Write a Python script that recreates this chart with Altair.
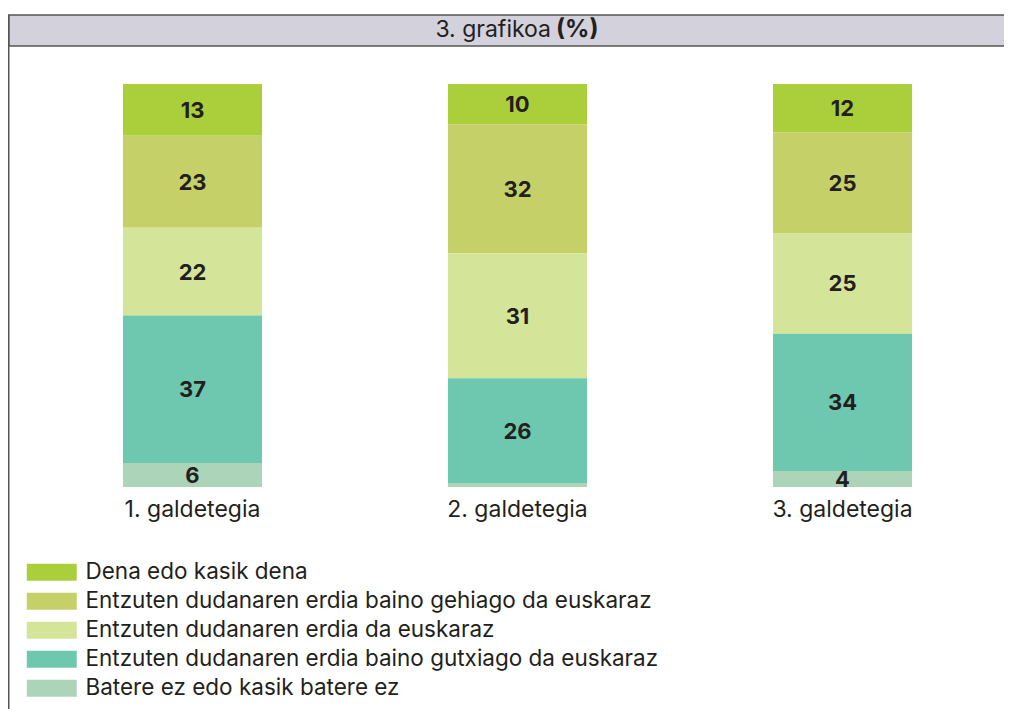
import altair as alt
import pandas as pd

surveys = ["1. galdetegia", "2. galdetegia", "3. galdetegia"]
categories = [
    "Dena edo kasik dena",
    "Entzuten dudanaren erdia baino gehiago da euskaraz",
    "Entzuten dudanaren erdia da euskaraz",
    "Entzuten dudanaren erdia baino gutxiago da euskaraz",
    "Batere ez edo kasik batere ez",
]
colors = ["#abcf3b", "#c5d069", "#d4e499", "#6ec8af", "#acd4b8"]
values_1 = [13, 23, 22, 37, 6]
values_2 = [10, 32, 31, 26, 1]
values_3 = [12, 25, 25, 34, 4]
title_regular = "3. grafikoa"
title_bold = "(%)"

FONT = "Inter"
TXT = "#231f20"

rows = []
for s, vals in zip(surveys, [values_1, values_2, values_3]):
    for i, (c, v) in enumerate(zip(categories, vals)):
        rows.append({"survey": s, "category": c, "value": v, "order": i})
df = pd.DataFrame(rows)

base = alt.Chart(df).transform_stack(
    stack="value",
    groupby=["survey"],
    as_=["v0", "v1"],
    offset="normalize",
    sort=[alt.SortField("order", order="descending")],
).transform_calculate(mid="(datum.v0 + datum.v1) / 2")

xenc = alt.X(
    "survey:N",
    sort=surveys,
    scale=alt.Scale(range=[22, 997], paddingInner=0.572, paddingOuter=0.286),
    axis=alt.Axis(
        title=None, labelAngle=0, domain=False, ticks=False, offset=-222,
        labelFontSize=23, labelColor=TXT, labelFont=FONT, labelPadding=11,
    ),
)
yscale = alt.Scale(domain=[0, 1], range=[472, 69])

bars = base.mark_bar(strokeWidth=0).encode(
    x=xenc,
    y=alt.Y("v0:Q", scale=yscale, axis=None),
    y2="v1:Q",
    color=alt.Color(
        "category:N",
        scale=alt.Scale(domain=categories, range=colors),
        legend=alt.Legend(
            title=None, orient="none", legendX=32.5, legendY=546,
            direction="vertical", symbolType="M-2.94,-1H2.94V1H-2.94Z",
            symbolSize=289, symbolStrokeWidth=0, symbolOpacity=1,
            labelFontSize=22.5, labelFont=FONT, labelColor=TXT, labelLimit=0,
            labelOffset=22.5, rowPadding=6,
        ),
    ),
)

labels = base.transform_filter("datum.value >= 3").mark_text(
    fontSize=22, fontWeight="bold", font=FONT, color=TXT, baseline="middle", dy=1
).encode(
    x=alt.X("survey:N", sort=surveys),
    y=alt.Y("mid:Q", scale=yscale, axis=None),
    text="value:Q",
)

one = alt.Chart(pd.DataFrame({"t": [0]}))
header = one.mark_rect(fill="#d3d1dc", stroke="#555555", strokeWidth=1.5).encode(
    x=alt.value(0.75), x2=alt.value(1010), y=alt.value(0), y2=alt.value(31)
)
left_line = one.mark_rule(color="#555555", strokeWidth=1.5).encode(
    x=alt.value(0.75), y=alt.value(0), y2=alt.value(700)
)
t1 = one.mark_text(fontSize=23, font=FONT, color=TXT, align="right", baseline="middle").encode(
    x=alt.value(543), y=alt.value(15), text=alt.value(title_regular)
)
t2 = one.mark_text(fontSize=24, font=FONT, fontWeight="bold", color=TXT, align="left", baseline="middle").encode(
    x=alt.value(548), y=alt.value(15), text=alt.value(title_bold)
)

chart = alt.layer(header, left_line, t1, t2, bars, labels).properties(
    width=996, height=694,
    padding={"top": 7, "left": 0, "right": 0, "bottom": 0},
    autosize="none",
).configure_view(stroke=None)

chart.save("out.html", embed_options={"renderer": "svg", "actions": False})
